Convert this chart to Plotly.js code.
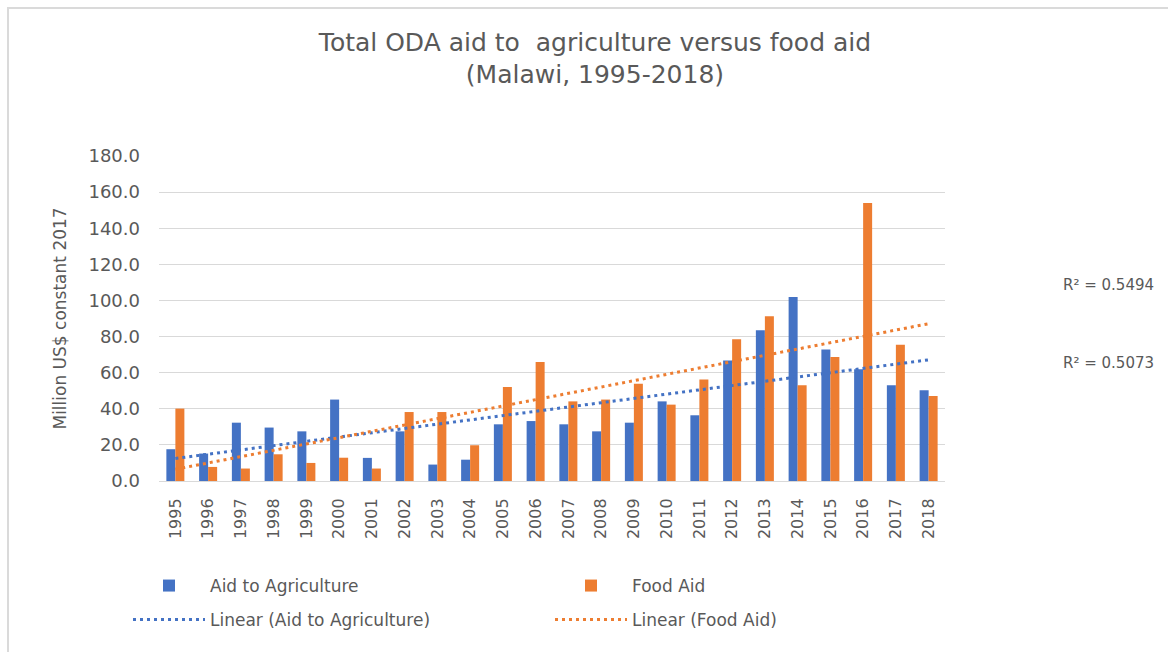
<!DOCTYPE html>
<html>
<head>
<meta charset="utf-8">
<script src="https://cdn.plot.ly/plotly-3.0.1.min.js"></script>
<style>
  html, body { margin: 0; padding: 0; background: #ffffff; overflow: hidden; }
  #chart { width: 1168px; height: 652px; }
  #frame {
    position: absolute; left: 7px; top: 7px; width: 1300px; height: 800px;
    border-top: 2px solid #dadada; border-left: 2px solid #dadada;
    pointer-events: none; box-sizing: border-box;
  }
</style>
</head>
<body>
<div id="chart"></div>
<div id="frame"></div>
<script>
// Malawi: ODA to agriculture vs food aid, million US$ (constant 2017)
const years = ['1995','1996','1997','1998','1999','2000','2001','2002','2003','2004','2005','2006',
               '2007','2008','2009','2010','2011','2012','2013','2014','2015','2016','2017','2018'];
const aidToAgriculture = [17.6, 15.2, 32.3, 29.6, 27.5, 45.1, 12.8, 27.5, 9.1, 11.8, 31.4, 33.2,
                          31.4, 27.5, 32.3, 44.1, 36.4, 66.8, 83.5, 101.9, 72.8, 61.9, 53.0, 50.2];
const foodAid = [40.1, 7.8, 6.9, 14.8, 10.0, 12.9, 6.9, 38.2, 38.2, 19.8, 52.1, 65.9,
                 44.1, 45.1, 53.9, 42.3, 56.2, 78.5, 91.2, 53.0, 68.7, 154.0, 75.5, 47.1];
const seriesNames = ['Aid to Agriculture', 'Food Aid'];
const trendNames = ['Linear (Aid to Agriculture)', 'Linear (Food Aid)'];
const rSquaredLabels = ['R\u00B2 = 0.5494', 'R\u00B2 = 0.5073'];
const yAxisTitle = 'Million US$ constant 2017';

const BLUE = '#4472C4';
const ORANGE = '#ED7D31';
const TEXT = '#595959';
const FONT = 'DejaVu Sans, Noto Sans, sans-serif';

// Ordinary least-squares line over the category index (1..n)
function linearFit(vals) {
  const n = vals.length;
  let sx = 0, sy = 0, sxx = 0, sxy = 0;
  vals.forEach((v, i) => {
    const x = i + 1;
    sx += x; sy += v; sxx += x * x; sxy += x * v;
  });
  const slope = (n * sxy - sx * sy) / (n * sxx - sx * sx);
  const intercept = (sy - slope * sx) / n;
  return vals.map((_, i) => intercept + slope * (i + 1));
}

const dotted = { width: 3, dash: '3px,4px' };

// each legend entry gets its own legend box so the key forms a 2 x 2 grid
const traces = [
  { type: 'bar', name: seriesNames[0], x: years, y: aidToAgriculture,
    marker: { color: BLUE }, legend: 'legend' },
  { type: 'bar', name: seriesNames[1], x: years, y: foodAid,
    marker: { color: ORANGE }, legend: 'legend2' },
  { type: 'scatter', mode: 'lines', name: trendNames[0], x: years, y: linearFit(aidToAgriculture),
    line: Object.assign({ color: BLUE }, dotted), legend: 'legend3' },
  { type: 'scatter', mode: 'lines', name: trendNames[1], x: years, y: linearFit(foodAid),
    line: Object.assign({ color: ORANGE }, dotted), legend: 'legend4' }
];

function legendAt(xPx, yPx) {
  return {
    orientation: 'v', xref: 'container', yref: 'container',
    x: xPx / 1168, xanchor: 'left', y: 1 - yPx / 652, yanchor: 'middle',
    itemwidth: 72,
    font: { family: FONT, size: 17, color: TEXT },
    bgcolor: 'rgba(0,0,0,0)', borderwidth: 0
  };
}

const rLabelAnnotations = rSquaredLabels.map((t, i) => ({
  text: t, showarrow: false, xref: 'paper', yref: 'paper',
  x: 1.1476, xanchor: 'left', y: [0.603, 0.363][i], yanchor: 'middle',
  font: { family: FONT, size: 15, color: TEXT }
}));

const layout = {
  width: 1168, height: 652,
  paper_bgcolor: '#ffffff', plot_bgcolor: '#ffffff',
  margin: { l: 159, r: 223, t: 156, b: 171, autoexpand: false },
  font: { family: FONT, color: TEXT },
  showlegend: true,
  title: {
    text: 'Total ODA aid to\u00A0 agriculture versus food aid<br>(Malawi, 1995-2018)',
    font: { family: FONT, size: 25, color: TEXT },
    x: 0.5094, xanchor: 'center', xref: 'container',
    y: 0.922, yanchor: 'top', yref: 'container'
  },
  barmode: 'group', bargap: 0.45, bargroupgap: 0,
  xaxis: {
    type: 'category', tickangle: -90,
    tickfont: { family: FONT, size: 16, color: TEXT },
    showgrid: false, showline: true, linecolor: '#d9d9d9', linewidth: 1,
    ticks: '', ticklabelstandoff: 10, fixedrange: true
  },
  yaxis: {
    range: [0, 180], dtick: 20, tickformat: '.1f',
    tickfont: { family: FONT, size: 18, color: TEXT },
    gridcolor: '#d9d9d9', gridwidth: 1, zeroline: true, zerolinecolor: '#d9d9d9',
    showline: false, ticks: '', ticklabelstandoff: 18,
    fixedrange: true
  },
  legend: legendAt(128, 586),
  legend2: legendAt(550, 586),
  legend3: legendAt(128, 620),
  legend4: legendAt(550, 620),
  annotations: rLabelAnnotations.concat([{
    // vertical value-axis caption, left of the tick labels
    text: yAxisTitle, showarrow: false, textangle: -90,
    xref: 'paper', yref: 'paper', x: -0.1272, xanchor: 'center', y: 0.5, yanchor: 'middle',
    font: { family: FONT, size: 17, color: TEXT }
  }])
};

Plotly.newPlot('chart', traces, layout, { displayModeBar: false, staticPlot: true });
</script>
</body>
</html>
